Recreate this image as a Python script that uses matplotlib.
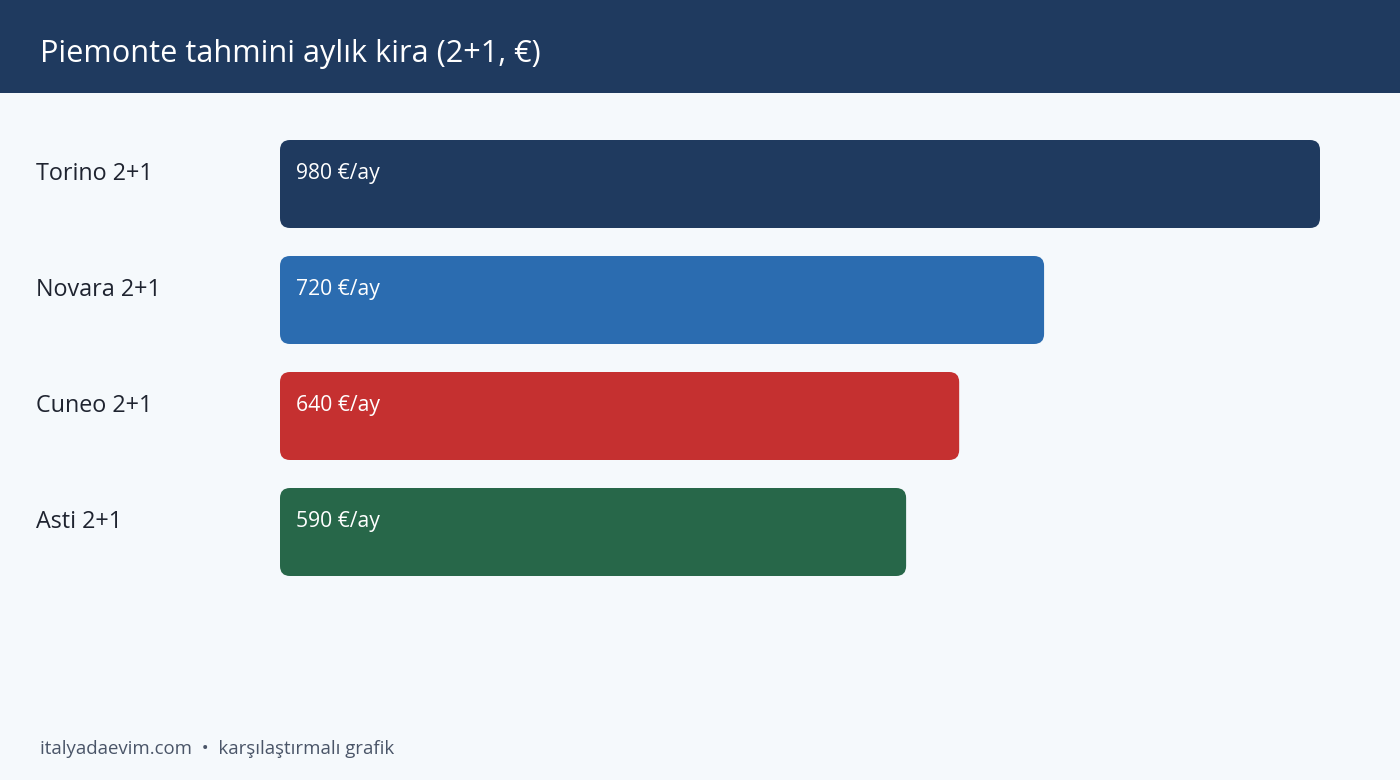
import matplotlib
matplotlib.use("Agg")
import matplotlib.pyplot as plt
from matplotlib.patches import FancyBboxPatch, Rectangle

categories = ["Torino 2+1", "Novara 2+1", "Cuneo 2+1", "Asti 2+1"]
values = [980, 720, 640, 590]
value_labels = ["980 €/ay", "720 €/ay", "640 €/ay", "590 €/ay"]
colors = ["#1f3a5f", "#2b6cb0", "#c53030", "#276749"]
title = "Piemonte tahmini aylık kira (2+1, €)"
footer = "italyadaevim.com  •  karşılaştırmalı grafik"

plt.rcParams['font.family'] = ['Open Sans', 'DejaVu Sans']

W, H, DPI = 1400, 780, 100
fig = plt.figure(figsize=(W / DPI, H / DPI), dpi=DPI, facecolor="#f5f9fc")
ax = fig.add_axes([0, 0, 1, 1])
ax.set_facecolor("#f5f9fc")
ax.axis("off")

# scale: 1040 px for max value; bars begin at x=280 px
px_per_unit = 1040 / max(values)
ax.set_xlim(-280 / px_per_unit, (W - 280) / px_per_unit)
row_px = 116
first_center = 184
ax.set_ylim((H - first_center) / row_px, -first_center / row_px)

bar_h = 88 / row_px
radius_px = 10
x_per_px = 1 / px_per_unit
y_per_px = 1 / row_px
aspect = y_per_px / x_per_px

for i, (cat, v, lab, c) in enumerate(zip(categories, values, value_labels, colors)):
    p = FancyBboxPatch((0, i - bar_h / 2), v, bar_h,
                       boxstyle=f"round,pad=0,rounding_size={radius_px * x_per_px}",
                       mutation_aspect=aspect, facecolor=c, edgecolor="none")
    ax.add_patch(p)
    ax.annotate(lab, xy=(0, i), xytext=(16 * 0.72, 10.5 * 0.72), textcoords="offset points",
                ha="left", va="center", color="white", fontsize=15.2)
    ax.text(36 / W, i - 10.5 / row_px, cat, transform=ax.get_yaxis_transform(),
            ha="left", va="center", color="#1f2430", fontsize=16.8)

# header band
fig.patches.append(Rectangle((0, 1 - 93 / H), 1, 93 / H, transform=fig.transFigure,
                             facecolor="#1f3a5f", edgecolor="none", zorder=0))
fig.text(40 / W, 1 - 54 / H, title, ha="left", va="center", color="white", fontsize=22.1)
fig.text(40 / W, 1 - 749 / H, footer, ha="left", va="center", color="#4a5568", fontsize=13.4)

fig.savefig("out.png", dpi=DPI, facecolor=fig.get_facecolor())
